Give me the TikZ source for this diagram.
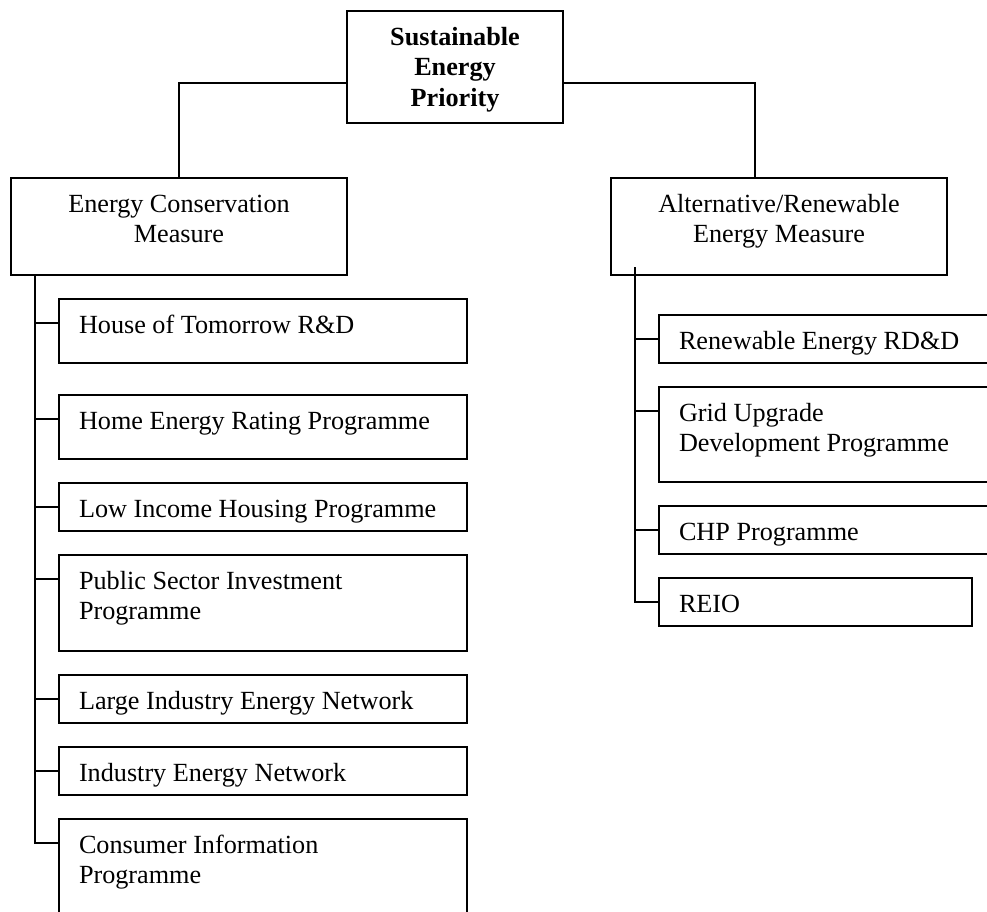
\documentclass[tikz,border=0pt]{standalone}
\usepackage{fontspec}
\setmainfont{Liberation Serif}
\usetikzlibrary{positioning}

\begin{document}
\begin{tikzpicture}[x=1pt,y=1pt,node distance=24pt,
  box/.style={draw,line width=1.5pt,outer sep=0pt,inner xsep=20pt,inner ysep=0pt,
      text height=34pt,anchor=north west,font=\fontsize{26.2}{30.5}\selectfont},
  prog/.style={box,align=flush left,text width=368pt},
  measure/.style={box,align=flush center,text width=296pt,text depth=63pt},
  link/.style={line width=1.5pt}]
\useasboundingbox (0,0) rectangle (987,-911);
\clip (0,0) rectangle (987,-911);
% priority and the two measures
\node[box,align=flush center,text width=176pt,text depth=78pt,
      font=\fontsize{26.2}{30.5}\selectfont\bfseries] (sep) at (347,-11)
  {Sustainable\\Energy\\Priority};
\node[measure] (ecm) at (11,-178) {Energy Conservation\\Measure};
\node[measure,right=264pt of ecm] (arm) {Alternative/Renewable\\Energy Measure};
\draw[link] ([yshift=40pt]sep.south west) -| (ecm.north);
\draw[link] ([yshift=40pt]sep.south east) -| ([xshift=144pt]arm.north west);
% conservation programmes
\node[prog,text depth=30pt] (hot) at (59,-299) {House of Tomorrow R\&D};
\node[prog,text depth=30pt,below=32pt of hot] (her) {Home Energy Rating Programme};
\node[prog,text depth=14pt,below=of her] (lih) {Low Income Housing Programme};
\node[prog,text depth=62pt,below=of lih] (psi) {Public Sector Investment\\Programme};
\node[prog,text depth=14pt,below=of psi] (lie) {Large Industry Energy Network};
\node[prog,text depth=14pt,below=of lie] (ien) {Industry Energy Network};
\node[prog,text depth=80pt,below=of ien] (cip) {Consumer Information\\Programme};
\foreach \p in {hot,her,lih,psi,lie,ien,cip}
  \draw[link] ([xshift=24pt]ecm.south west) |- ([yshift=-24pt]\p.north west);
% renewable programmes
\node[prog,text depth=14pt] (red) at (659,-315) {Renewable Energy RD\&D};
\node[prog,text depth=61pt,below=of red] (gud) {Grid Upgrade\\Development Programme};
\node[prog,text depth=14pt,below=of gud] (chp) {CHP Programme};
\node[prog,text width=273pt,text depth=14pt,below=24pt of chp.south west,
      anchor=north west] (reio) {REIO};
\foreach \p in {red,gud,chp,reio}
  \draw[link] ([xshift=24pt,yshift=8pt]arm.south west) |- ([yshift=-24pt]\p.north west);
\end{tikzpicture}
\end{document}
